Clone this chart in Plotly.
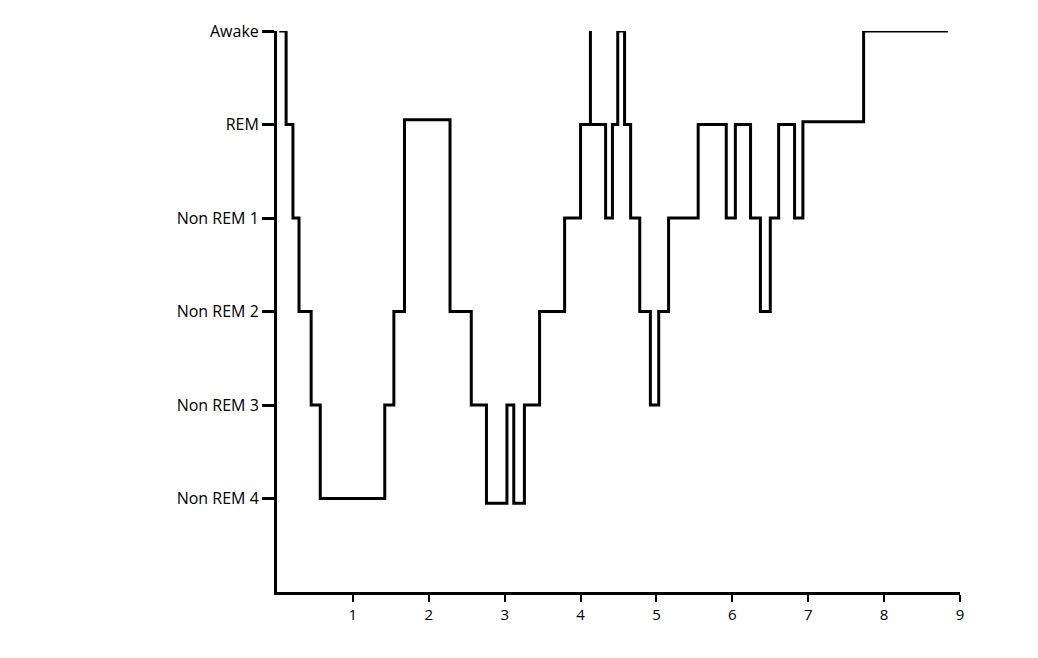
import plotly.graph_objects as go

hours = [0.03, 0.12, 0.21, 0.29, 0.45, 0.57, 1.42, 1.54, 1.68, 2.28, 2.56, 2.76, 3.03, 3.12, 3.26, 3.46,
         3.79, 4.0, 4.13, 4.13, 4.33, 4.42, 4.49, 4.58, 4.66, 4.78, 4.92, 5.03, 5.16, 5.55, 5.92, 6.04,
         6.24, 6.37, 6.5, 6.61, 6.82, 6.93, 7.73, 8.84]
stage = [6, 5, 4, 3, 2, 1, 2, 3, 5.05, 3, 2, 0.95, 2, 0.95, 2, 3,
         4, 5, 6, 5, 4, 5, 6, 5, 4, 3, 2, 3, 4, 5, 4, 5,
         4, 3, 4, 5, 4, 5.03, 6, 6]
stage_vals = [1, 2, 3, 4, 5, 6]
stage_labels = ["Non REM 4", "Non REM 3", "Non REM 2", "Non REM 1", "REM", "Awake"]
x_ticks = [1, 2, 3, 4, 5, 6, 7, 8, 9]

fig = go.Figure(go.Scatter(x=hours, y=stage, mode="lines", line=dict(shape="hv", color="black", width=3)))
fig.update_layout(
    width=1038, height=658, plot_bgcolor="white", paper_bgcolor="white",
    margin=dict(l=269, r=86, t=15, b=74), showlegend=False,
    font=dict(family="Open Sans", size=16, color="black"),
)
fig.update_xaxes(range=[0, 9], tickvals=x_ticks, showgrid=False, zeroline=False,
                 showline=True, linewidth=3, linecolor="black", ticks="outside",
                 ticklen=7, tickwidth=2, tickcolor="black", tickfont=dict(size=15))
fig.update_yaxes(range=[0, 6], tickvals=stage_vals, ticktext=stage_labels, showgrid=False,
                 zeroline=False, showline=True, linewidth=3, linecolor="black",
                 ticks="outside", ticklen=12, tickwidth=3, tickcolor="black")
fig.write_html("out.html")
